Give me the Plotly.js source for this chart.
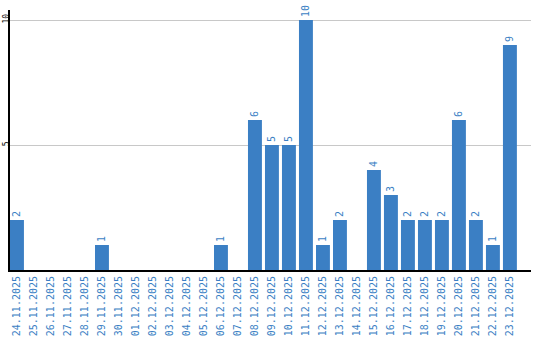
<!DOCTYPE html>
<html><head><meta charset="utf-8">
<script src="https://cdn.plot.ly/plotly-3.0.1.min.js"></script>
<style>html,body{margin:0;padding:0;background:#fff}#c{width:540px;height:340px}</style>
</head><body><div id="c"></div>
<script>
const dates = ["24.11.2025","25.11.2025","26.11.2025","27.11.2025","28.11.2025","29.11.2025","30.11.2025","01.12.2025","02.12.2025","03.12.2025","04.12.2025","05.12.2025","06.12.2025","07.12.2025","08.12.2025","09.12.2025","10.12.2025","11.12.2025","12.12.2025","13.12.2025","14.12.2025","15.12.2025","16.12.2025","17.12.2025","18.12.2025","19.12.2025","20.12.2025","21.12.2025","22.12.2025","23.12.2025"];
const counts = [2,0,0,0,0,1,0,0,0,0,0,0,1,0,6,5,5,10,1,2,0,4,3,2,2,2,6,2,1,9];
const yTicks = [5,10];

const blue = '#3b7fc4';
const mono = 'DejaVu Sans Mono, monospace';
const labels = counts.map(v => v > 0 ? String(v) : '');

Plotly.newPlot('c', [{
  type: 'bar',
  x: dates,
  y: counts,
  text: labels,
  textposition: 'outside',
  textangle: -90,
  cliponaxis: false,
  textfont: {family: mono, size: 10, color: blue},
  marker: {color: blue},
  hoverinfo: 'none'
}], {
  width: 540, height: 340,
  margin: {l: 10, r: 9, t: 10, b: 70},
  bargap: 0.18,
  paper_bgcolor: '#fff', plot_bgcolor: '#fff',
  showlegend: false,
  xaxis: {
    type: 'category',
    range: [-0.41, 30.24],
    tickangle: -90,
    tickfont: {family: mono, size: 10, color: blue},
    showline: true, linecolor: '#000', linewidth: 2,
    ticks: '', showgrid: false, automargin: false, fixedrange: true
  },
  yaxis: {
    range: [0, 10.4],
    tickvals: yTicks,
    ticktext: yTicks.map(String),
    tickangle: -90,
    ticklabelstandoff: -4,
    tickfont: {family: mono, size: 8, color: '#000'},
    showline: true, linecolor: '#000', linewidth: 2,
    showgrid: true, gridcolor: '#c8c8c8', gridwidth: 1,
    zeroline: false, ticks: '', automargin: false, fixedrange: true
  }
}, {displayModeBar: false, staticPlot: true});
</script></body></html>
